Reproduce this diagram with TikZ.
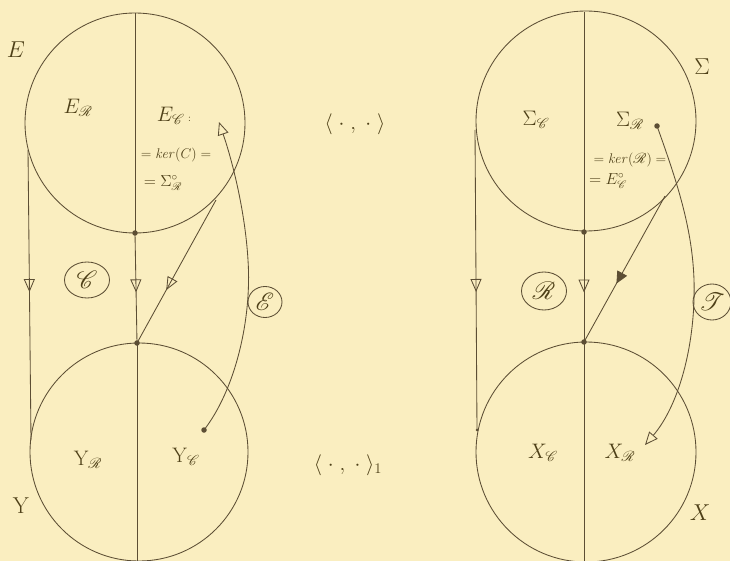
\documentclass[tikz,border=0pt]{standalone}
\usepackage{fix-cm}
\usepackage{mathrsfs}
\usetikzlibrary{arrows.meta,decorations.markings,shapes.geometric}
\definecolor{paper}{RGB}{250,238,192}
\definecolor{ink}{RGB}{92,78,52}
\definecolor{txt}{RGB}{78,64,24}
\tikzset{
  ln/.style={draw=ink, line width=0.85pt},
  midarr/.style={postaction={decorate}, decoration={markings,
     mark=at position #1 with {\arrow{Triangle[open,length=13pt,width=11pt,line width=0.85pt]}}}},
  midarrfull/.style={postaction={decorate}, decoration={markings,
     mark=at position #1 with {\arrow{Triangle[length=12pt,width=11pt]}}}},
  endarr/.style={-{Triangle[open,length=13pt,width=11pt,line width=0.85pt]}},
  lblhuge/.style={text=txt, font=\fontsize{23}{25}\selectfont, inner sep=0pt},
  lblbig/.style={text=txt, font=\fontsize{21}{23}\selectfont, inner sep=0pt},
  lblmid/.style={text=txt, font=\fontsize{16}{18}\selectfont, inner sep=0pt},
  lblsmall/.style={text=txt, font=\fontsize{14}{16}\selectfont, inner sep=0pt},
  oval/.style={ellipse, draw=ink, line width=0.85pt, text=txt,
     font=\fontsize{24}{26}\selectfont, inner sep=0pt},
  dotc/.style={circle, fill=ink, inner sep=0pt, minimum size=5.5pt},
  dots/.style={circle, fill=ink, inner sep=0pt, minimum size=3pt},
}
\begin{document}
\begin{tikzpicture}[x=1pt,y=-1pt]
\fill[paper] (0,0) rectangle (730,561);
\useasboundingbox (0,0) rectangle (730,561);

% circle centres
\coordinate (TLc) at (135,123);
\coordinate (BLc) at (139,452);
\coordinate (TRc) at (586,121);
\coordinate (BRc) at (586,452);
\draw[ln] (TLc) circle[radius=110pt];
\draw[ln] (BLc) circle[radius=109pt];
\draw[ln] (TRc) circle[radius=110pt];
\draw[ln] (BRc) circle[radius=110pt];

% dots
\node[dotc] (dL1) at (135,233) {};
\node[dotc] (dL2) at (137,343) {};
\node[dotc] (dR1) at (584,232) {};
\node[dotc] (dR2) at (584,342) {};
\node[dotc] (dYc) at (204,430) {};
\node[dotc] (dSr) at (657,126) {};
\node[dots] (dRo) at (477,430) {};

% left side lines
\coordinate (Ltop) at (135,13);
\coordinate (Lbot) at (137,561);
\draw[ln] (Ltop) -- (dL1.center);
\draw[ln, midarr=0.54] (dL1.center) -- (dL2.center);
\draw[ln] (dL2.center) -- (Lbot);
\coordinate (Lo1) at (28,150);
\coordinate (Lo2) at (31,440);
\draw[ln, midarr=0.49] (Lo1) -- (Lo2);
\coordinate (Ld) at (216,200);
\draw[ln, midarr=0.63] (Ld) -- (dL2.center);
\coordinate (Etip) at (219,122);
\draw[ln, endarr] (dYc.center) .. controls (235,390) and (252,320) .. (248,260)
   .. controls (245,210) and (232,160) .. (Etip);

% right side lines
\coordinate (Rtop) at (584,12);
\coordinate (Rbot) at (584,561);
\draw[ln] (Rtop) -- (dR1.center);
\draw[ln, midarr=0.55] (dR1.center) -- (dR2.center);
\draw[ln] (dR2.center) -- (Rbot);
\coordinate (Ro1) at (475,130);
\draw[ln, midarr=0.54] (Ro1) -- (dRo.center);
\coordinate (Rd) at (665,196);
\draw[ln, midarrfull=0.6] (Rd) -- (dR2.center);
\coordinate (Ttip) at (645,445);
\draw[ln, endarr] (dSr.center) .. controls (680,190) and (696,240) .. (694,300)
   .. controls (692,360) and (675,410) .. (Ttip);

% circled labels
\node[oval, minimum width=45pt, minimum height=36pt] (oC) at (87,280) {$\mathscr C$};
\node[oval, minimum width=34pt, minimum height=31pt] (oE) at (265,302) {$\mathscr E$};
\node[oval, minimum width=45pt, minimum height=38pt] (oR) at (544,291) {$\mathscr R$};
\node[oval, minimum width=38pt, minimum height=36pt] (oT) at (712,302) {$\mathscr T$};

% texts left
\node[lblhuge] (lE) at (16,50) {$E$};
\node[lblbig] (lER) at (78,108) {$E_{\mathscr R}$};
\node[lblbig] (lEC) at (174,116) {$E_{\mathscr C}$\,{\fontsize{10}{10}\selectfont :}};
\node[lblsmall] (lker1) at (176,155) {$=\mathit{ker}(C)=$};
\node[lblmid] (lsig1) at (163,183) {$=\Sigma^{\circ}_{\mathscr R}$};
\node[lblbig] (lYR) at (88,460) {$\mathrm{Y}_{\mathscr R}$};
\node[lblbig] (lYC) at (186,457) {$\mathrm{Y}_{\mathscr C}$};
\node[lblhuge] (lY) at (21,506) {$\mathrm{Y}$};

% inner products
\node[lblbig] (lip) at (355,124) {$\langle\;\cdot\;,\;\cdot\;\rangle$};
\node[lblbig] (lip1) at (348,465) {$\langle\;\cdot\;,\;\cdot\;\rangle_1$};

% texts right
\node[lblhuge] (lSig) at (702,67) {$\Sigma$};
\node[lblbig] (lSC) at (536,120) {$\Sigma_{\mathscr C}$};
\node[lblbig] (lSR) at (630,121) {$\Sigma_{\mathscr R}$};
\node[lblsmall] (lker2) at (630,160) {$=\mathit{ker}(\mathscr R)=$};
\node[lblmid] (lEo) at (608,181) {$=E^{\circ}_{\mathscr C}$};
\node[lblbig] (lXC) at (543,453) {$X_{\mathscr C}$};
\node[lblbig] (lXR) at (620,453) {$X_{\mathscr R}$};
\node[lblhuge] (lX) at (700,513) {$X$};
\end{tikzpicture}
\end{document}
